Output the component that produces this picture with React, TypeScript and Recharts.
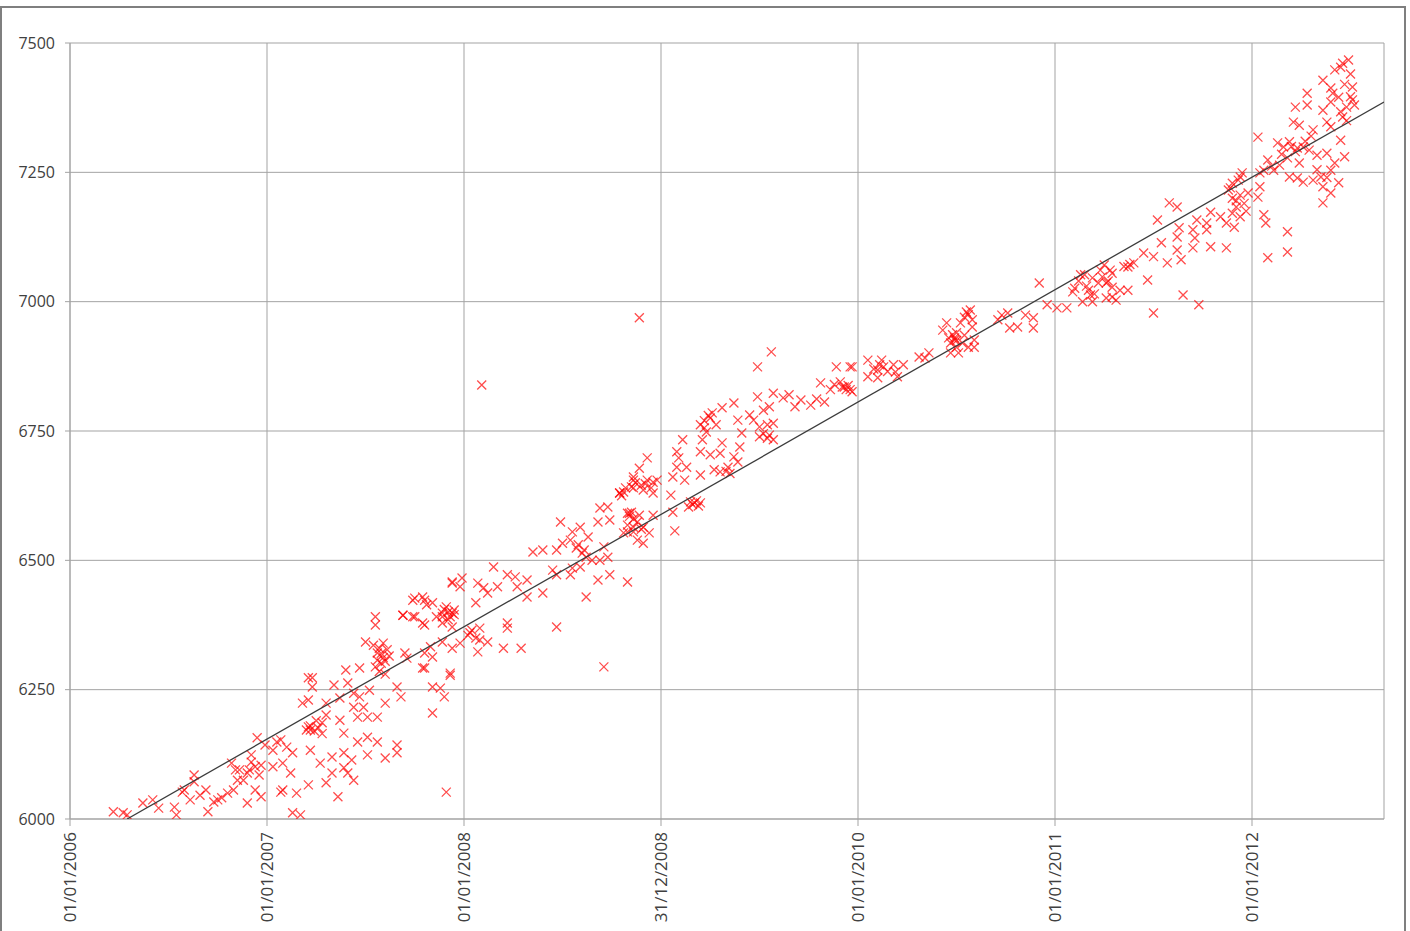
import React from "react";
import {
  ScatterChart,
  Scatter,
  XAxis,
  YAxis,
  CartesianGrid,
} from "recharts";

// x = decimal year, y = value
const pts2006: [number, number][] = [
  [2006.22, 6014], [2006.27, 6012], [2006.29, 6008], [2006.37, 6031], [2006.42, 6037], [2006.45, 6021],
  [2006.53, 6023], [2006.54, 6008], [2006.57, 6052], [2006.63, 6072], [2006.63, 6085], [2006.66, 6046],
  [2006.69, 6056], [2006.7, 6014], [2006.73, 6033], [2006.75, 6037], [2006.77, 6041], [2006.8, 6050],
  [2006.82, 6108], [2006.83, 6056], [2006.85, 6075], [2006.88, 6075], [2006.9, 6089], [2006.91, 6095],
  [2006.92, 6124], [2006.94, 6101], [2006.94, 6056], [2006.95, 6157], [2006.97, 6104], [2006.97, 6043],
  [2006.9, 6031], [2006.99, 6143], [2006.86, 6095], [2006.58, 6056], [2006.61, 6037], [2006.84, 6095],
  [2006.92, 6110], [2006.96, 6085],
];

const pts2007: [number, number][] = [
  [2007.03, 6133], [2007.05, 6149], [2007.08, 6108], [2007.07, 6052], [2007.12, 6089], [2007.13, 6012],
  [2007.17, 6008], [2007.2, 6172], [2007.21, 6230], [2007.21, 6273], [2007.07, 6153], [2007.1, 6139],
  [2007.13, 6128], [2007.03, 6101], [2007.08, 6056], [2007.15, 6050], [2007.22, 6133], [2007.27, 6108],
  [2007.33, 6120], [2007.33, 6089], [2007.39, 6128], [2007.39, 6099], [2007.43, 6114], [2007.51, 6124],
  [2007.51, 6158], [2007.46, 6149], [2007.56, 6149], [2007.6, 6118], [2007.66, 6143], [2007.66, 6128],
  [2007.21, 6066], [2007.3, 6070], [2007.36, 6043], [2007.41, 6089], [2007.44, 6075], [2007.18, 6224],
  [2007.22, 6172], [2007.21, 6178], [2007.28, 6186], [2007.3, 6201], [2007.37, 6191], [2007.39, 6166],
  [2007.44, 6216], [2007.46, 6197], [2007.51, 6197], [2007.56, 6197], [2007.6, 6224], [2007.23, 6273],
  [2007.23, 6255], [2007.34, 6259], [2007.3, 6224], [2007.37, 6234], [2007.44, 6243], [2007.47, 6236],
  [2007.52, 6249], [2007.49, 6216], [2007.68, 6236], [2007.66, 6255], [2007.47, 6292], [2007.4, 6288],
  [2007.41, 6263], [2007.5, 6342], [2007.54, 6336], [2007.56, 6321], [2007.56, 6307], [2007.58, 6301],
  [2007.55, 6294], [2007.61, 6327], [2007.71, 6311], [2007.79, 6292], [2007.84, 6313], [2007.93, 6278],
  [2007.94, 6330], [2007.98, 6340], [2007.88, 6253], [2007.9, 6236], [2007.84, 6255], [2007.84, 6205],
  [2007.91, 6052], [2007.55, 6391], [2007.55, 6375], [2007.69, 6394], [2007.75, 6391], [2007.8, 6375],
  [2007.94, 6458], [2007.98, 6449], [2007.75, 6427], [2007.8, 6423], [2007.81, 6414], [2007.89, 6391],
  [2007.92, 6400], [2007.94, 6398], [2007.89, 6379], [2007.74, 6423], [2007.79, 6429], [2007.84, 6418],
  [2007.89, 6398], [2007.93, 6391], [2007.92, 6385], [2007.95, 6404], [2007.86, 6391], [2007.79, 6379],
  [2007.74, 6391], [2007.69, 6394], [2007.7, 6321], [2007.8, 6321], [2007.83, 6333], [2007.93, 6282],
  [2007.8, 6292], [2007.89, 6342], [2007.94, 6371], [2007.94, 6456], [2007.99, 6466], [2007.58, 6320],
  [2007.59, 6312], [2007.22, 6180], [2007.24, 6170], [2007.26, 6176], [2007.28, 6165], [2007.25, 6190],
  [2007.57, 6330], [2007.59, 6340], [2007.6, 6305], [2007.62, 6315], [2007.57, 6285], [2007.6, 6280],
  [2007.9, 6405], [2007.91, 6410], [2007.95, 6395],
];

const pts2008: [number, number][] = [
  [2008.03, 6360], [2008.08, 6369], [2008.08, 6346], [2008.07, 6323], [2008.12, 6342], [2008.22, 6379],
  [2008.22, 6369], [2008.2, 6330], [2008.29, 6330], [2008.47, 6371], [2008.71, 6294], [2008.09, 6839],
  [2008.15, 6487], [2008.07, 6456], [2008.1, 6447], [2008.12, 6437], [2008.17, 6449], [2008.22, 6472],
  [2008.26, 6468], [2008.32, 6462], [2008.27, 6449], [2008.32, 6429], [2008.4, 6437], [2008.06, 6418],
  [2008.35, 6516], [2008.4, 6520], [2008.47, 6520], [2008.5, 6533], [2008.54, 6539], [2008.57, 6524],
  [2008.6, 6514], [2008.62, 6506], [2008.65, 6500], [2008.69, 6500], [2008.73, 6506], [2008.45, 6481],
  [2008.47, 6472], [2008.54, 6472], [2008.55, 6485], [2008.59, 6487], [2008.68, 6462], [2008.74, 6472],
  [2008.83, 6458], [2008.62, 6429], [2008.49, 6574], [2008.59, 6564], [2008.55, 6555], [2008.69, 6601],
  [2008.68, 6574], [2008.74, 6578], [2008.79, 6630], [2008.81, 6632], [2008.85, 6642], [2008.86, 6655],
  [2008.84, 6591], [2008.86, 6564], [2008.83, 6555], [2008.71, 6526], [2008.73, 6603], [2008.83, 6591],
  [2008.85, 6593], [2008.89, 6587], [2008.96, 6587], [2008.83, 6568], [2008.88, 6574], [2008.91, 6564],
  [2008.81, 6553], [2008.86, 6555], [2008.94, 6553], [2008.88, 6539], [2008.91, 6533], [2008.93, 6698],
  [2008.89, 6678], [2008.86, 6661], [2008.93, 6655], [2008.96, 6651], [2008.98, 6655], [2008.79, 6630],
  [2008.86, 6640], [2008.91, 6636], [2008.96, 6630], [2008.89, 6969], [2008.02, 6355], [2008.04, 6365],
  [2008.06, 6350], [2008.58, 6530], [2008.61, 6520], [2008.63, 6545], [2008.8, 6625], [2008.82, 6640],
  [2008.87, 6650], [2008.9, 6645], [2008.92, 6648], [2008.95, 6640], [2008.84, 6585], [2008.86, 6580],
  [2008.9, 6560],
];

const pts2009: [number, number][] = [
  [2009.05, 6626], [2009.15, 6613], [2009.17, 6611], [2009.2, 6611], [2009.14, 6603], [2009.06, 6593],
  [2009.07, 6557], [2009.16, 6608], [2009.18, 6615], [2009.19, 6605], [2009.06, 6661], [2009.12, 6655],
  [2009.08, 6710], [2009.09, 6698], [2009.08, 6680], [2009.13, 6680], [2009.2, 6665], [2009.27, 6675],
  [2009.3, 6671], [2009.34, 6680], [2009.11, 6733], [2009.21, 6733], [2009.31, 6727], [2009.4, 6719],
  [2009.2, 6710], [2009.25, 6704], [2009.3, 6707], [2009.37, 6700], [2009.39, 6690], [2009.2, 6762],
  [2009.22, 6756], [2009.23, 6748], [2009.41, 6746], [2009.5, 6758], [2009.54, 6762], [2009.57, 6765],
  [2009.5, 6739], [2009.54, 6736], [2009.57, 6733], [2009.37, 6804], [2009.31, 6795], [2009.26, 6785],
  [2009.25, 6775], [2009.39, 6771], [2009.45, 6781], [2009.47, 6771], [2009.49, 6816], [2009.57, 6823],
  [2009.55, 6797], [2009.52, 6790], [2009.71, 6810], [2009.76, 6800], [2009.83, 6806], [2009.62, 6814],
  [2009.68, 6797], [2009.56, 6903], [2009.49, 6874], [2009.89, 6874], [2009.96, 6874], [2009.81, 6843],
  [2009.86, 6830], [2009.92, 6835], [2009.94, 6830], [2009.97, 6826], [2009.93, 6835], [2009.96, 6830],
  [2009.97, 6874], [2009.65, 6820], [2009.79, 6812], [2009.22, 6770], [2009.24, 6780], [2009.28, 6762],
  [2009.33, 6672], [2009.35, 6668], [2009.52, 6745], [2009.55, 6742], [2009.88, 6840], [2009.91, 6845],
  [2009.95, 6838],
];

const pts2010: [number, number][] = [
  [2010.05, 6887], [2010.05, 6855], [2010.1, 6868], [2010.12, 6887], [2010.13, 6874], [2010.1, 6853],
  [2010.18, 6878], [2010.19, 6864], [2010.2, 6855], [2010.23, 6878], [2010.31, 6893], [2010.36, 6901],
  [2010.34, 6891], [2010.43, 6945], [2010.45, 6959], [2010.48, 6936], [2010.49, 6926], [2010.5, 6912],
  [2010.51, 6901], [2010.47, 6901], [2010.52, 6959], [2010.55, 6980], [2010.57, 6984], [2010.58, 6965],
  [2010.58, 6951], [2010.59, 6926], [2010.59, 6912], [2010.53, 6920], [2010.71, 6965], [2010.73, 6974],
  [2010.76, 6978], [2010.77, 6949], [2010.81, 6951], [2010.85, 6974], [2010.89, 6969], [2010.89, 6949],
  [2010.92, 7036], [2010.96, 6994], [2010.49, 6930], [2010.5, 6940], [2010.46, 6930], [2010.47, 6920],
  [2010.5, 6925], [2010.54, 6935], [2010.56, 6912], [2010.54, 6970], [2010.56, 6975], [2010.08, 6870],
  [2010.11, 6878], [2010.15, 6865],
];

const pts2011: [number, number][] = [
  [2011.01, 6988], [2011.06, 6988], [2011.09, 7019], [2011.13, 7052], [2011.14, 7000], [2011.17, 7022],
  [2011.19, 7046], [2011.22, 7036], [2011.19, 7000], [2011.26, 7007], [2011.28, 7061], [2011.29, 7028],
  [2011.31, 7003], [2011.1, 7026], [2011.15, 7052], [2011.23, 7061], [2011.25, 7071], [2011.18, 7013],
  [2011.26, 7036], [2011.29, 7055], [2011.29, 7009], [2011.33, 7022], [2011.37, 7067], [2011.37, 7022],
  [2011.4, 7075], [2011.45, 7094], [2011.47, 7042], [2011.5, 7087], [2011.5, 6978], [2011.52, 7158],
  [2011.54, 7114], [2011.57, 7075], [2011.58, 7191], [2011.62, 7183], [2011.62, 7125], [2011.62, 7100],
  [2011.63, 7143], [2011.64, 7081], [2011.65, 7013], [2011.7, 7104], [2011.7, 7139], [2011.71, 7123],
  [2011.72, 7158], [2011.73, 6994], [2011.77, 7152], [2011.77, 7139], [2011.79, 7173], [2011.79, 7106],
  [2011.84, 7164], [2011.87, 7152], [2011.87, 7104], [2011.88, 7216], [2011.9, 7200], [2011.9, 7229],
  [2011.9, 7171], [2011.91, 7144], [2011.92, 7183], [2011.94, 7241], [2011.94, 7206], [2011.94, 7164],
  [2011.95, 7249], [2011.12, 7040], [2011.16, 7030], [2011.2, 7015], [2011.24, 7048], [2011.27, 7040],
  [2011.35, 7068], [2011.38, 7072], [2011.89, 7220], [2011.92, 7195], [2011.96, 7190], [2011.97, 7175],
  [2011.98, 7210], [2011.93, 7235],
];

const pts2012: [number, number][] = [
  [2012.03, 7318], [2012.03, 7202], [2012.04, 7249], [2012.04, 7222], [2012.06, 7254], [2012.06, 7168],
  [2012.07, 7152], [2012.08, 7085], [2012.08, 7274], [2012.11, 7254], [2012.13, 7307], [2012.14, 7264],
  [2012.16, 7299], [2012.18, 7278], [2012.18, 7135], [2012.18, 7096], [2012.19, 7309], [2012.19, 7241],
  [2012.21, 7347], [2012.22, 7376], [2012.23, 7297], [2012.23, 7239], [2012.24, 7341], [2012.24, 7268],
  [2012.26, 7299], [2012.26, 7231], [2012.28, 7403], [2012.28, 7380], [2012.29, 7293], [2012.31, 7332],
  [2012.31, 7235], [2012.33, 7283], [2012.35, 7241], [2012.36, 7428], [2012.36, 7370], [2012.36, 7222],
  [2012.36, 7191], [2012.38, 7347], [2012.38, 7287], [2012.4, 7413], [2012.4, 7386], [2012.4, 7338],
  [2012.4, 7254], [2012.4, 7210], [2012.41, 7403], [2012.42, 7448], [2012.45, 7453], [2012.45, 7367],
  [2012.45, 7312], [2012.46, 7461], [2012.46, 7357], [2012.48, 7376], [2012.49, 7467], [2012.5, 7396],
  [2012.51, 7415], [2012.51, 7390], [2012.1, 7262], [2012.15, 7285], [2012.2, 7300], [2012.22, 7290],
  [2012.27, 7310], [2012.3, 7320], [2012.33, 7255], [2012.38, 7240], [2012.42, 7268], [2012.44, 7230],
  [2012.47, 7280], [2012.47, 7420], [2012.5, 7440], [2012.52, 7380], [2012.44, 7395], [2012.48, 7350],
];

const trend: [number, number][] = [
  [2006.29, 6000],
  [2012.67, 7386],
];

const xTicks = [2006, 2007, 2008, 2009, 2010, 2011, 2012];
const xTickLabels = ["01/01/2006", "01/01/2007", "01/01/2008", "31/12/2008", "01/01/2010", "01/01/2011", "01/01/2012"];
const xMinorTicks = [2006, 2006.25, 2006.5, 2006.75, 2007, 2007.25, 2007.5, 2007.75, 2008, 2008.25, 2008.5, 2008.75,
  2009, 2009.25, 2009.5, 2009.75, 2010, 2010.25, 2010.5, 2010.75, 2011, 2011.25, 2011.5, 2011.75, 2012, 2012.25, 2012.5];
const yTicks = [6000, 6250, 6500, 6750, 7000, 7250, 7500];
const yMinorTicks = [6000, 6050, 6100, 6150, 6200, 6250, 6300, 6350, 6400, 6450, 6500, 6550, 6600, 6650, 6700,
  6750, 6800, 6850, 6900, 6950, 7000, 7050, 7100, 7150, 7200, 7250, 7300, 7350, 7400, 7450, 7500];

const points = [...pts2006, ...pts2007, ...pts2008, ...pts2009, ...pts2010, ...pts2011, ...pts2012].map(
  ([x, y]) => ({ x, y })
);
const trendData = trend.map(([x, y]) => ({ x, y }));

const FONT = "'Open Sans', 'DejaVu Sans', sans-serif";
const GRID = "#a3a3a3";

const Cross = (props: any) => {
  const { cx, cy } = props;
  if (cx == null || cy == null) return <g />;
  const r = 4.5;
  return (
    <path
      d={`M${cx - r},${cy - r}L${cx + r},${cy + r}M${cx + r},${cy - r}L${cx - r},${cy + r}`}
      stroke="#ff0000"
      strokeOpacity={0.7}
      strokeWidth={1.3}
      fill="none"
    />
  );
};

const NoShape = () => <g />;

const DateTick = (props: any) => {
  const { x, y, payload } = props;
  const i = xTicks.indexOf(payload.value);
  return (
    <text
      transform={`translate(${x},${y + 4}) rotate(-90)`}
      textAnchor="end"
      dy="0.35em"
      fill="#404040"
      fontSize={17}
      fontFamily={FONT}
    >
      {i >= 0 ? xTickLabels[i] : ""}
    </text>
  );
};

export default function App() {
  return (
    <div style={{ position: "absolute", left: 0, top: 0, width: 1410, height: 931, background: "#fff", overflow: "hidden" }}>
      <div
        style={{
          position: "absolute",
          left: 0,
          top: 6,
          width: 1402,
          height: 940,
          border: "2px solid #7f7f7f",
        }}
      />
      <div style={{ position: "absolute", left: 0, top: 0 }}>
        <ScatterChart width={1410} height={931} margin={{ top: 43, right: 26, bottom: 0, left: 0 }}>
          <CartesianGrid stroke={GRID} strokeWidth={1} />
          <XAxis
            type="number"
            dataKey="x"
            domain={[2006, 2012.67]}
            ticks={xTicks}
            interval={0}
            height={112}
            tickSize={7}
            stroke={GRID}
            tick={<DateTick />}
            allowDataOverflow
          />
          <XAxis
            xAxisId="minor"
            type="number"
            dataKey="x"
            domain={[2006, 2012.67]}
            ticks={xMinorTicks}
            interval={0}
            height={0}
            tickSize={7}
            axisLine={false}
            stroke={GRID}
            tick={NoShape}
            allowDataOverflow
          />
          <YAxis
            type="number"
            dataKey="y"
            domain={[6000, 7500]}
            ticks={yTicks}
            interval={0}
            width={70}
            tickSize={5}
            tickMargin={10}
            stroke={GRID}
            tick={{ fill: "#404040", fontSize: 16, fontFamily: FONT }}
            allowDataOverflow
          />
          <YAxis
            yAxisId="minor"
            type="number"
            dataKey="y"
            domain={[6000, 7500]}
            ticks={yMinorTicks}
            interval={0}
            width={0}
            tickSize={5}
            axisLine={false}
            stroke={GRID}
            tick={NoShape}
            allowDataOverflow
          />
          <Scatter data={points} shape={Cross} isAnimationActive={false} />
          <Scatter
            data={trendData}
            line={{ stroke: "#3c3c3c", strokeWidth: 1.3 }}
            shape={NoShape}
            isAnimationActive={false}
          />
        </ScatterChart>
      </div>
    </div>
  );
}
